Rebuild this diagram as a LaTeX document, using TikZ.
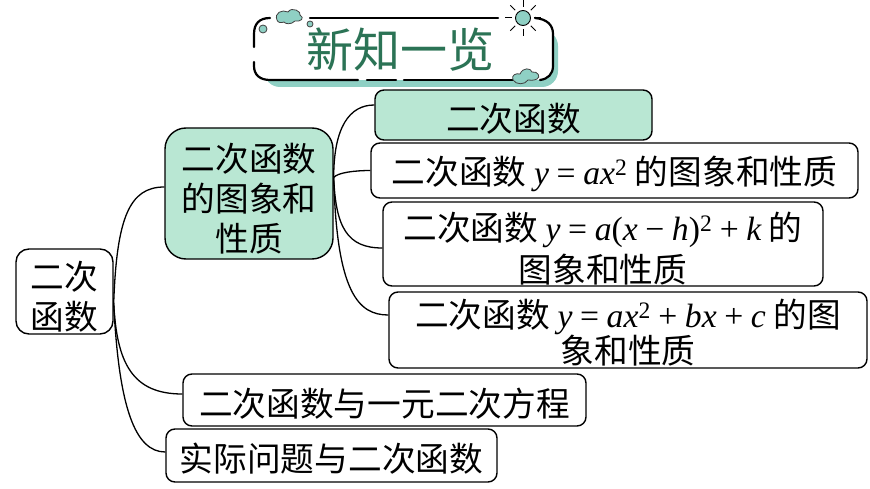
\documentclass[tikz,border=0pt]{standalone}
\usepackage{fontspec}
\setmainfont{Noto Sans CJK SC}
\newfontfamily\latinfont{Liberation Serif}
\newcommand{\vb}[1]{{\latinfont\itshape #1}}
\newcommand{\ltn}[1]{{\latinfont #1}}
\newcommand{\lift}[1]{\rule{0pt}{#1}}
\tikzset{
  topic node/.style={draw,rounded corners=9pt,line width=1.4pt,inner sep=0pt,align=center,
    font=\fontsize{33.7}{40}\selectfont,execute at begin node=\rule{0pt}{35pt}},
  green node/.style={topic node,fill=mintfill},
  branch/.style={line width=1.3pt},
  frame line/.style={line width=2.2pt,line cap=round},
  cloud part/.style={fill=tealfill,draw=black!75,line width=0.8pt},
}
\definecolor{mintfill}{HTML}{B9E7D3}
\definecolor{tealfill}{HTML}{8FD0C4}
\definecolor{titlegreen}{HTML}{2B7355}
\begin{document}
\begin{tikzpicture}[x=1pt,y=-1pt]
  \useasboundingbox (0,0) rectangle (870,489);
  % title
  \fill[tealfill] (264,30) [rounded corners=16pt] rectangle (558,87);
  \fill[white] (254,18) [rounded corners=16pt] rectangle (553,80);
  \draw[frame line] (310,18) -- (498,18);
  \draw[frame line] (270,18) .. controls (259,18) and (254,24) .. (254,34) -- (254,47);
  \draw[frame line] (254,62) -- (254,66) .. controls (254,75) and (260,80) .. (270,80) -- (358,80);
  \draw[frame line] (367,80) -- (396,80);
  \draw[frame line] (404,80) -- (520,80);
  \draw[frame line] (535,18) .. controls (547,19) and (553,25) .. (553,34) -- (553,66) .. controls (553,74) and (548,79) .. (540,80);
  \node[font=\fontsize{47}{47}\selectfont,text=titlegreen] (title) at (400,50) {新知一览};
  % clouds and sun
  \draw[cloud part] (277,20) .. controls (274,13) and (282,9) .. (288,12) .. controls (292,6) and (302,12) .. (300,15)
    .. controls (305,18) and (301,22) .. (295,21) .. controls (291,25) and (285,24) .. (284,22) .. controls (281,23) and (278,23) .. (277,20) -- cycle;
  \draw[cloud part] (513,80) .. controls (511,75) and (516,73) .. (520,74) .. controls (523,67) and (531,68) .. (532,72)
    .. controls (538,71) and (541,77) .. (537,79) .. controls (533,81) and (530,80) .. (528,80) .. controls (525,85) and (516,85) .. (513,80) -- cycle;
  \draw[cloud part] (263,29) circle (4);
  \draw[cloud part] (310,24) circle (3);
  \draw[fill=tealfill,line width=0.9pt] (523,18) circle (7.5);
  \foreach \ang in {0,45,...,315}
    \draw[line width=1pt] (523,18) ++(\ang:11) -- ++(\ang:7);
  % nodes
  \node[topic node,rounded corners=13pt,minimum width=97pt,minimum height=85pt] (root) at (64.5,291.5) {\lift{39pt}二次\\函数};
  \node[green node,rounded corners=21pt,minimum width=168pt,minimum height=131pt] (func) at (249,193.5) {\lift{38pt}二次函数\\的图象和\\性质};
  \node[green node,minimum width=277pt,minimum height=50pt] (basic) at (513.5,115) {二次函数};
  \node[topic node,minimum width=487pt,minimum height=55pt] (simple) at (614.5,170.5) {二次函数 \vb{y} \ltn{=} \vb{ax}\ltn{\textsuperscript{2}} 的图象和性质};
  \node[topic node,minimum width=440pt,minimum height=84pt,font=\fontsize{33.7}{42}\selectfont] (vertex) at (603,244) {\lift{38pt}二次函数 \vb{y} \ltn{=} \vb{a}\ltn{(}\vb{x} \ltn{−} \vb{h}\ltn{)\textsuperscript{2}} \ltn{+} \vb{k} 的\\图象和性质};
  \node[topic node,minimum width=478pt,minimum height=76pt,font=\fontsize{33.7}{36}\selectfont] (general) at (628,330) {\lift{34pt}二次函数 \vb{y} \ltn{=} \vb{ax}\ltn{\textsuperscript{2}} \ltn{+} \vb{bx} \ltn{+} \vb{c} 的图\\象和性质};
  \node[topic node,minimum width=403pt,minimum height=52pt] (equation) at (384.5,400) {二次函数与一元二次方程};
  \node[topic node,minimum width=331pt,minimum height=53pt] (practice) at (331.5,455.5) {实际问题与二次函数};
  % connectors
  \draw[branch] ([yshift=-11.5pt]root.east) .. controls +(3,-85) and +(-35,0) .. ([yshift=6.5pt]func.west);
  \draw[branch] ([yshift=-11.5pt]root.east) .. controls +(3,60) and +(-50,0) .. ([yshift=6pt]equation.west);
  \draw[branch] ([yshift=-11.5pt]root.east) .. controls +(5,105) and +(-30,0) .. ([yshift=3.5pt]practice.west);
  \draw[branch] ([yshift=16pt]func.east) .. controls +(0,-50) and +(-25,0) .. ([yshift=10pt]basic.west);
  \draw[branch] ([yshift=16pt]func.east) .. controls +(4,-5) and +(-15,0) .. (simple.west);
  \draw[branch] ([yshift=16pt]func.east) .. controls +(2,50) and +(-35,0) .. ([yshift=-4pt]vertex.west);
  \draw[branch] ([yshift=16pt]func.east) .. controls +(3,115) and +(-30,0) .. ([yshift=15pt]general.west);
\end{tikzpicture}
\end{document}
